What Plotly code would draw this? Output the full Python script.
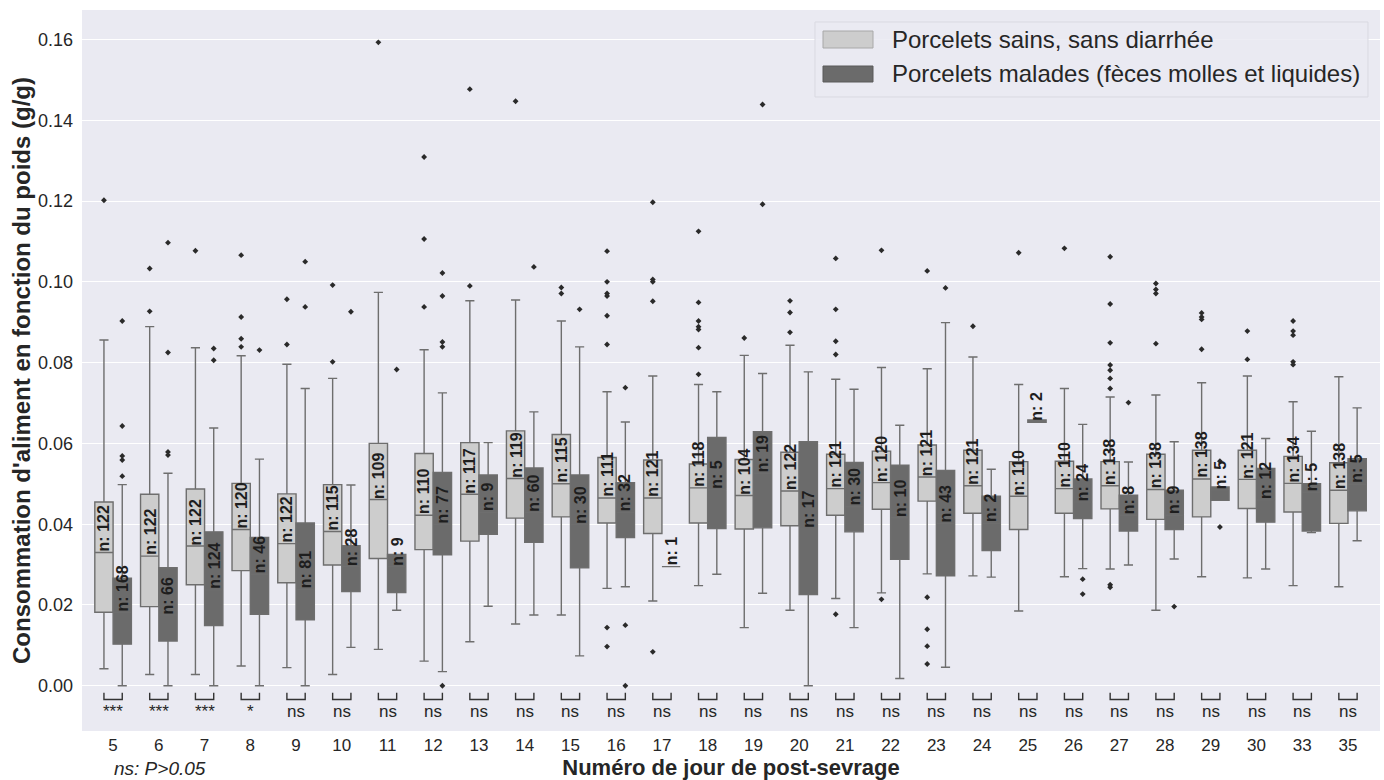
import numpy as np
import plotly.graph_objects as go

# ---------------- data ----------------
days = [5, 6, 7, 8, 9, 10, 11, 12, 13, 14, 15, 16, 17, 18, 19, 20, 21, 22, 23, 24,
        25, 26, 27, 28, 29, 30, 33, 35]

light_q1 = [0.0182, 0.0196, 0.0250, 0.0285, 0.0255, 0.0299, 0.0315, 0.0337, 0.0358, 0.0415,
            0.0418, 0.0403, 0.0377, 0.0403, 0.0388, 0.0396, 0.0422, 0.0437, 0.0457, 0.0427,
            0.0387, 0.0427, 0.0438, 0.0412, 0.0418, 0.0439, 0.0430, 0.0402]
light_med = [0.0330, 0.0321, 0.0346, 0.0387, 0.0352, 0.0382, 0.0461, 0.0422, 0.0474, 0.0513,
             0.0500, 0.0465, 0.0465, 0.0490, 0.0471, 0.0482, 0.0488, 0.0503, 0.0517, 0.0495,
             0.0469, 0.0488, 0.0495, 0.0486, 0.0512, 0.0511, 0.0501, 0.0484]
light_q3 = [0.0455, 0.0474, 0.0487, 0.0501, 0.0475, 0.0498, 0.0600, 0.0575, 0.0602, 0.0631,
            0.0622, 0.0565, 0.0559, 0.0549, 0.0560, 0.0578, 0.0573, 0.0581, 0.0596, 0.0583,
            0.0555, 0.0556, 0.0555, 0.0573, 0.0583, 0.0583, 0.0568, 0.0552]
light_lo = [0.0042, 0.0028, 0.0028, 0.0049, 0.0045, 0.0028, 0.0090, 0.0061, 0.0109, 0.0153,
            0.0175, 0.0241, 0.0210, 0.0248, 0.0144, 0.0187, 0.0216, 0.0230, 0.0277, 0.0272,
            0.0185, 0.0270, 0.0289, 0.0187, 0.0270, 0.0267, 0.0248, 0.0245]
light_hi = [0.0856, 0.0889, 0.0837, 0.0817, 0.0796, 0.0761, 0.0974, 0.0832, 0.0953, 0.0955,
            0.0903, 0.0728, 0.0767, 0.0746, 0.0818, 0.0843, 0.0759, 0.0788, 0.0785, 0.0814,
            0.0746, 0.0736, 0.0715, 0.0720, 0.0750, 0.0767, 0.0703, 0.0765]
light_n = [122, 122, 122, 120, 122, 115, 109, 110, 117, 119, 115, 111, 121, 118, 104, 122,
           121, 120, 121, 121, 110, 110, 138, 138, 138, 121, 134, 138]
light_out = [
    [0.1202], [0.1033, 0.0927], [0.1077], [0.1066, 0.0913, 0.0859, 0.0839],
    [0.0957, 0.0845], [0.0992, 0.0802], [0.1593], [0.1309, 0.1106, 0.0938],
    [0.1477, 0.0990], [0.1447], [0.0986, 0.0971],
    [0.1076, 0.1000, 0.0971, 0.0965, 0.0916, 0.0845, 0.0144, 0.0097],
    [0.1197, 0.1006, 0.1000, 0.0952, 0.0084],
    [0.1125, 0.0949, 0.0903, 0.0889, 0.0882, 0.0837, 0.0771],
    [0.0861], [0.0953, 0.0924, 0.0875], [0.1058, 0.0932, 0.0853, 0.0820, 0.0177],
    [0.1078, 0.0214], [0.1027, 0.0219, 0.0140, 0.0098, 0.0054], [0.0890], [0.1072],
    [0.1083], [0.1062, 0.0945, 0.0849, 0.0794, 0.0781, 0.0761, 0.0736, 0.0250, 0.0244],
    [0.0996, 0.0981, 0.0971, 0.0847], [0.0923, 0.0913, 0.0907, 0.0833],
    [0.0878, 0.0808], [0.0903, 0.0878, 0.0868, 0.0802, 0.0795], [],
]

dark_q1 = [0.0103, 0.0111, 0.0149, 0.0177, 0.0163, 0.0233, 0.0231, 0.0324, 0.0375, 0.0355,
           0.0292, 0.0367, 0.0295, 0.0389, 0.0391, 0.0226, 0.0381, 0.0313, 0.0272, 0.0335,
           0.0652, 0.0414, 0.0383, 0.0387, 0.0459, 0.0405, 0.0383, 0.0433]
dark_med = [0.0182, 0.0175, 0.0237, 0.0276, 0.0238, 0.0295, 0.0295, 0.0399, 0.0429, 0.0429,
            0.0399, 0.0429, 0.0295, 0.0486, 0.0526, 0.0388, 0.0443, 0.0416, 0.0402, 0.0402,
            0.0655, 0.0455, 0.0422, 0.0422, 0.0485, 0.0460, 0.0479, 0.0499]
dark_q3 = [0.0266, 0.0292, 0.0381, 0.0367, 0.0403, 0.0347, 0.0325, 0.0528, 0.0522, 0.0539,
           0.0522, 0.0503, 0.0295, 0.0615, 0.0629, 0.0604, 0.0553, 0.0546, 0.0533, 0.0469,
           0.0658, 0.0512, 0.0472, 0.0484, 0.0492, 0.0538, 0.0500, 0.0562]
dark_lo = [0.0, 0.0, 0.0, 0.0, 0.0, 0.0095, 0.0187, 0.0035, 0.0197, 0.0175,
           0.0074, 0.0245, 0.0295, 0.0276, 0.0229, 0.0, 0.0144, 0.0018, 0.0046, 0.0269,
           0.0652, 0.0290, 0.0299, 0.0314, 0.0459, 0.0289, 0.0379, 0.0359]
dark_hi = [0.0498, 0.0526, 0.0638, 0.0561, 0.0736, 0.0497, 0.0325, 0.0725, 0.0602, 0.0678,
           0.0839, 0.0653, 0.0295, 0.0728, 0.0773, 0.0777, 0.0734, 0.0645, 0.0899, 0.0536,
           0.0658, 0.0647, 0.0554, 0.0604, 0.0492, 0.0612, 0.0630, 0.0688]
dark_n = [168, 66, 124, 46, 81, 28, 9, 77, 9, 60, 30, 32, 1, 5, 19, 17, 30, 10, 43, 2,
          2, 24, 8, 9, 5, 12, 5, 5]
dark_out = [
    [0.0903, 0.0643, 0.0569, 0.0559, 0.0519], [0.1097, 0.0825, 0.0579, 0.0571],
    [0.0835, 0.0806], [0.0831], [0.1050, 0.0938], [0.0926], [0.0783],
    [0.1022, 0.0965, 0.0851, 0.0839, 0.0], [], [0.1037], [0.0932],
    [0.0738, 0.0150, 0.0], [], [], [0.1439, 0.1192], [], [], [], [0.0985], [], [],
    [0.0264, 0.0227], [0.0701], [0.0196], [0.0556, 0.0393], [], [], [],
]

signif = ["***", "***", "***", "*"] + ["ns"] * 24

series_names = ["Porcelets sains, sans diarrhée",
                "Porcelets malades (fèces molles et liquides)"]

# ---------------- style ----------------
FONT = "Liberation Sans, Arial, sans-serif"
LIGHT = "#cdcdcd"
DARK = "#6b6b6b"
EDGE = "#6e6e6e"
BG = "#eaeaf2"
TXT = "#262626"

W, H = 1384, 780
ML, MR, MT, MB = 82, 4, 10, 49
PW, PH = W - ML - MR, H - MT - MB


def px(xp):
    return (xp - ML) / PW


def py(yp):
    return (H - MB - yp) / PH


idx = np.arange(len(days))
light_x = idx - 0.2
dark_x = idx + 0.2

fig = go.Figure()

groups = [
    (light_x, light_q1, light_med, light_q3, light_lo, light_hi, light_n, light_out, LIGHT, series_names[0]),
    (dark_x, dark_q1, dark_med, dark_q3, dark_lo, dark_hi, dark_n, dark_out, DARK, series_names[1]),
]

for xs, q1, med, q3, lo, hi, ns_, outs, col, name in groups:
    fig.add_trace(go.Box(
        x=list(xs), q1=q1, median=med, q3=q3, lowerfence=lo, upperfence=hi,
        width=0.4, whiskerwidth=0.5, fillcolor=col,
        line=dict(color=EDGE, width=1.4), boxpoints=False, name=name,
        hoverinfo="y", showlegend=False,
    ))

for xs, q1, med, q3, lo, hi, ns_, outs, col, name in groups:
    ox, oy = [], []
    for x0, vals in zip(xs, outs):
        for v in vals:
            ox.append(x0)
            oy.append(v)
    fig.add_trace(go.Scatter(
        x=ox, y=oy, mode="markers", showlegend=False,
        marker=dict(symbol="diamond", size=4.5, color="#2a2a2a"),
        hoverinfo="y",
    ))

# significance brackets
bx, by = [], []
TICK_TOP = -0.0017
LINE_Y = -0.0034
for a, b in zip(light_x, dark_x):
    bx += [a, a, b, b, None]
    by += [TICK_TOP, LINE_Y, LINE_Y, TICK_TOP, None]
fig.add_trace(go.Scatter(x=bx, y=by, mode="lines", showlegend=False,
                         line=dict(color="#333333", width=1.4), hoverinfo="skip"))

annotations = []
for xs, med, ns_ in [(light_x, light_med, light_n), (dark_x, dark_med, dark_n)]:
    for x0, m, n in zip(xs, med, ns_):
        annotations.append(dict(
            x=x0, y=m, xref="x", yref="y", text=f"<b>n: {n}</b>", textangle=-90,
            xanchor="center", yanchor="bottom", showarrow=False, borderpad=0,
            font=dict(family=FONT, size=16, color="#1e1e1e"),
        ))

for i, s in zip(idx, signif):
    annotations.append(dict(
        x=i, y=LINE_Y - 0.0004, xref="x", yref="y", text=s, xanchor="center",
        yanchor="top", showarrow=False, borderpad=0,
        font=dict(family=FONT, size=17, color=TXT),
    ))

annotations.append(dict(
    x=px(160), y=py(768), xref="paper", yref="paper", text="<i>ns: P>0.05</i>",
    xanchor="center", yanchor="middle", showarrow=False,
    font=dict(family=FONT, size=19, color=TXT),
))

# custom legend (box patches)
shapes = [
    dict(type="rect", xref="paper", yref="paper", x0=px(815), x1=px(1368), y0=py(97), y1=py(22),
         fillcolor="rgba(234,234,242,0.85)", line=dict(color="#d9d9e1", width=1), layer="above"),
    dict(type="rect", xref="paper", yref="paper", x0=px(823), x1=px(873), y0=py(48), y1=py(31),
         fillcolor=LIGHT, line=dict(color="#a8a8a8", width=1), layer="above"),
    dict(type="rect", xref="paper", yref="paper", x0=px(823), x1=px(873), y0=py(82), y1=py(66),
         fillcolor=DARK, line=dict(color="#5a5a5a", width=1), layer="above"),
]
for name, yc in zip(series_names, [40, 74]):
    annotations.append(dict(
        x=px(891), y=py(yc), xref="paper", yref="paper", text=name, xanchor="left",
        yanchor="middle", showarrow=False, borderpad=0,
        font=dict(family=FONT, size=24, color=TXT),
    ))

fig.update_layout(
    width=W, height=H,
    margin=dict(l=ML, r=MR, t=MT, b=MB),
    paper_bgcolor="white", plot_bgcolor=BG,
    font=dict(family=FONT, size=17, color=TXT),
    showlegend=False,
    annotations=annotations,
    shapes=shapes,
    xaxis=dict(
        range=[-0.68, 27.7], tickvals=list(idx), ticktext=[str(d) for d in days],
        showgrid=False, zeroline=False, ticks="", ticklabelstandoff=2,
        tickfont=dict(family=FONT, size=17, color=TXT),
        title=dict(text="<b>Numéro de jour de post-sevrage</b>", standoff=3,
                   font=dict(family=FONT, size=22, color=TXT)),
        automargin=False,
    ),
    yaxis=dict(
        range=[-0.0112, 0.1673], tickvals=[0, 0.02, 0.04, 0.06, 0.08, 0.10, 0.12, 0.14, 0.16],
        tickformat=".2f", showgrid=True, gridcolor="white", gridwidth=1.2,
        zeroline=False, ticks="", ticklabelstandoff=8,
        tickfont=dict(family=FONT, size=18, color=TXT),
        title=dict(text="<b>Consommation d'aliment en fonction du poids (g/g)</b>", standoff=0,
                   font=dict(family=FONT, size=24, color=TXT)),
        automargin=False,
    ),
)

fig.write_html("out.html", config={"displayModeBar": False},
               post_script="document.body.style.margin='0';document.body.style.overflow='hidden';")
